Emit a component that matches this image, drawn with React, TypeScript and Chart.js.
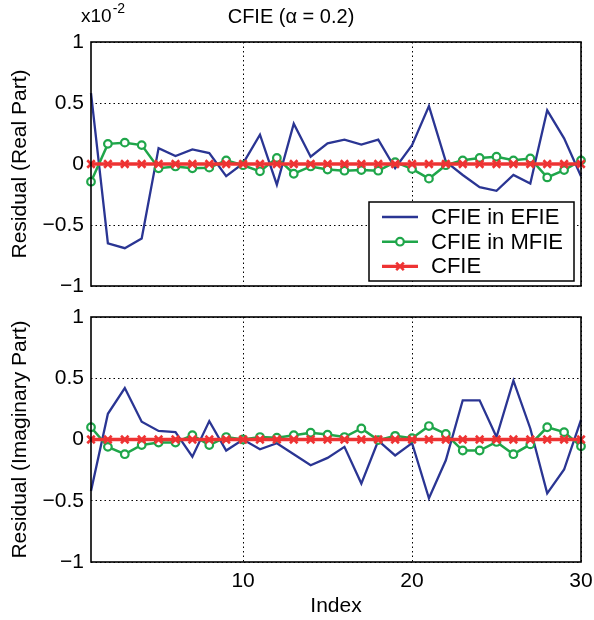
import React, { useEffect, useRef } from 'react';
import { Chart, registerables } from 'chart.js';

Chart.register(...registerables);

const indices = [1, 2, 3, 4, 5, 6, 7, 8, 9, 10, 11, 12, 13, 14, 15, 16, 17, 18, 19, 20, 21, 22, 23, 24, 25, 26, 27, 28, 29, 30];

const realEFIE = [0.58, -0.65, -0.69, -0.61, 0.13, 0.065, 0.12, 0.09, -0.10, 0.005, 0.24, -0.17, 0.33, 0.06, 0.17, 0.20, 0.16, 0.20, -0.035, 0.155, 0.475, 0.02, -0.09, -0.19, -0.22, -0.09, -0.16, 0.44, 0.21, -0.10];
const realMFIE = [-0.145, 0.165, 0.175, 0.155, -0.035, -0.02, -0.035, -0.03, 0.03, -0.01, -0.06, 0.05, -0.08, -0.02, -0.045, -0.055, -0.05, -0.055, 0.015, -0.04, -0.12, -0.01, 0.03, 0.05, 0.06, 0.03, 0.045, -0.11, -0.05, 0.03];
const realCFIE = [0, 0, 0, 0, 0, 0, 0, 0, 0, 0, 0, 0, 0, 0, 0, 0, 0, 0, 0, 0, 0, 0, 0, 0, 0, 0, 0, 0, 0, 0];

const imagEFIE = [-0.42, 0.21, 0.42, 0.145, 0.07, 0.06, -0.14, 0.15, -0.09, 0, -0.08, -0.03, -0.12, -0.21, -0.15, -0.06, -0.36, -0.01, -0.13, -0.03, -0.48, -0.17, 0.32, 0.32, 0.02, 0.48, 0.09, -0.44, -0.245, 0.16];
const imagMFIE = [0.10, -0.06, -0.12, -0.045, -0.025, -0.025, 0.035, -0.045, 0.02, 0, 0.02, 0.015, 0.035, 0.055, 0.04, 0.02, 0.09, -0.005, 0.03, 0.01, 0.11, 0.045, -0.09, -0.09, -0.02, -0.12, -0.04, 0.10, 0.06, -0.055];
const imagCFIE = [0, 0, 0, 0, 0, 0, 0, 0, 0, 0, 0, 0, 0, 0, 0, 0, 0, 0, 0, 0, 0, 0, 0, 0, 0, 0, 0, 0, 0, 0];

const xTicks = [10, 20, 30];
const yTicks = [-1, -0.5, 0, 0.5, 1];
const yTickLabels = ['−1', '−0.5', '0', '0.5', '1'];
const seriesNames = ['CFIE in EFIE', 'CFIE in MFIE', 'CFIE'];
const titleText = 'CFIE (α = 0.2)';
const exponentBase = 'x10';
const exponentPower = '-2';
const xTitle = 'Index';
const yTitleTop = 'Residual (Real Part)';
const yTitleBottom = 'Residual (Imaginary Part)';

const FAMILY = "'Liberation Sans', Arial, Helvetica, sans-serif";
const BLUE = '#2a3593';
const GREEN = '#1fa64a';
const RED = '#ee3333';

const boxPlugin = {
  id: 'boxPlugin',
  afterDatasetsDraw(chart: any) {
    const { ctx, chartArea: a } = chart;
    ctx.save();
    ctx.strokeStyle = '#000';
    ctx.lineWidth = 1.6;
    ctx.strokeRect(a.left, a.top, a.right - a.left, a.bottom - a.top);
    ctx.restore();
  },
};

function drawMarker(ctx: CanvasRenderingContext2D, kind: number, x: number, y: number) {
  if (kind === 1) {
    ctx.beginPath();
    ctx.arc(x, y, 3.8, 0, Math.PI * 2);
    ctx.fillStyle = '#fff';
    ctx.fill();
    ctx.lineWidth = 2.2;
    ctx.strokeStyle = GREEN;
    ctx.stroke();
  } else if (kind === 2) {
    const r = 3.8;
    ctx.beginPath();
    ctx.moveTo(x - r, y - r);
    ctx.lineTo(x + r, y + r);
    ctx.moveTo(x + r, y - r);
    ctx.lineTo(x - r, y + r);
    ctx.lineWidth = 2.6;
    ctx.strokeStyle = RED;
    ctx.stroke();
  }
}

const legendPlugin = {
  id: 'legendPlugin',
  afterDraw(chart: any) {
    const { ctx, chartArea: a } = chart;
    const w = 205;
    const h = 79;
    const right = a.right - 7;
    const bottom = a.bottom - 5;
    const left = right - w;
    const top = bottom - h;
    ctx.save();
    ctx.fillStyle = '#fff';
    ctx.fillRect(left, top, w, h);
    ctx.strokeStyle = '#000';
    ctx.lineWidth = 1.5;
    ctx.strokeRect(left, top, w, h);
    ctx.font = `22px ${FAMILY}`;
    ctx.textBaseline = 'middle';
    ctx.textAlign = 'left';
    chart.data.datasets.forEach((ds: any, i: number) => {
      const y = top + 15 + i * 24.7;
      ctx.beginPath();
      ctx.moveTo(left + 13, y);
      ctx.lineTo(left + 49, y);
      ctx.strokeStyle = ds.borderColor;
      ctx.lineWidth = ds.borderWidth;
      ctx.stroke();
      drawMarker(ctx, i, left + 31, y);
      ctx.fillStyle = '#000';
      ctx.fillText(ds.label, left + 62, y + 1);
    });
    ctx.restore();
  },
};

const headerPlugin = {
  id: 'headerPlugin',
  afterDraw(chart: any) {
    const { ctx } = chart;
    ctx.save();
    ctx.fillStyle = '#000';
    ctx.textBaseline = 'alphabetic';
    ctx.textAlign = 'center';
    ctx.font = `20px ${FAMILY}`;
    ctx.fillText(titleText, chart.width / 2 - 6, 23);
    ctx.textAlign = 'left';
    ctx.font = `19px ${FAMILY}`;
    ctx.fillText(exponentBase, 81, 22);
    const wb = ctx.measureText(exponentBase).width;
    ctx.font = `14px ${FAMILY}`;
    ctx.fillText(exponentPower, 81 + wb + 1, 13);
    ctx.restore();
  },
};

function makeConfig(isTop: boolean, efie: number[], mfie: number[], cfie: number[], yTitle: string): any {
  const font = { family: FAMILY, size: 21 };
  const toPts = (arr: number[]) => indices.map((x, i) => ({ x, y: arr[i] }));
  return {
    type: 'line',
    data: {
      datasets: [
        {
          label: seriesNames[0],
          data: toPts(efie),
          borderColor: BLUE,
          borderWidth: 2.3,
          pointRadius: 0,
          order: 3,
          clip: false,
          tension: 0,
        },
        {
          label: seriesNames[1],
          data: toPts(mfie),
          borderColor: GREEN,
          borderWidth: 2.5,
          pointRadius: 3.8,
          pointStyle: 'circle',
          pointBorderWidth: 2.2,
          pointBackgroundColor: '#fff',
          pointBorderColor: GREEN,
          order: 2,
          clip: false,
          tension: 0,
        },
        {
          label: seriesNames[2],
          data: toPts(cfie),
          borderColor: RED,
          borderWidth: 3.3,
          pointStyle: 'crossRot',
          pointRadius: 5.3,
          pointBorderWidth: 2.6,
          pointBorderColor: RED,
          order: 1,
          clip: false,
          tension: 0,
        },
      ],
    },
    options: {
      responsive: false,
      maintainAspectRatio: false,
      animation: false,
      events: [],
      layout: { autoPadding: false, padding: { left: 0, right: 13, top: isTop ? 42 : 17, bottom: isTop ? 14 : 0 } },
      plugins: {
        legend: { display: false },
        title: { display: false },
        tooltip: { enabled: false },
      },
      scales: {
        x: {
          type: 'linear',
          min: 1,
          max: 30,
          afterBuildTicks: (axis: any) => {
            axis.ticks = xTicks.map((v) => ({ value: v }));
          },
          afterFit: (axis: any) => {
            axis.height = isTop ? 0 : 58;
            axis.paddingLeft = 0;
            axis.paddingRight = 0;
          },
          ticks: {
            display: !isTop,
            font,
            color: '#000',
            padding: 7,
            maxRotation: 0,
            autoSkip: false,
            callback: (v: any) => String(v),
          },
          grid: { color: '#000', lineWidth: 1, drawTicks: false },
          border: { display: false, dash: [1.5, 3] },
          title: {
            display: !isTop,
            text: xTitle,
            font,
            color: '#000',
            padding: { top: 0, bottom: 1 },
          },
        },
        y: {
          type: 'linear',
          min: -1,
          max: 1,
          afterBuildTicks: (axis: any) => {
            axis.ticks = yTicks.map((v) => ({ value: v }));
          },
          afterFit: (axis: any) => {
            axis.width = 91;
            axis.paddingTop = 0;
            axis.paddingBottom = 0;
          },
          ticks: {
            font,
            color: '#000',
            padding: 7,
            callback: (v: any) => {
              const idx = yTicks.indexOf(Number(v));
              return idx >= 0 ? yTickLabels[idx] : '';
            },
          },
          grid: { color: '#000', lineWidth: 1, drawTicks: false },
          border: { display: false, dash: [1.5, 3] },
          title: {
            display: true,
            text: yTitle,
            font,
            color: '#000',
            padding: { top: 8, bottom: 0 },
          },
        },
      },
    },
    plugins: isTop ? [boxPlugin, legendPlugin, headerPlugin] : [boxPlugin],
  };
}

export default function App() {
  const topRef = useRef<HTMLCanvasElement>(null);
  const bottomRef = useRef<HTMLCanvasElement>(null);

  useEffect(() => {
    const c1 = new Chart(topRef.current as HTMLCanvasElement, makeConfig(true, realEFIE, realMFIE, realCFIE, yTitleTop));
    const c2 = new Chart(bottomRef.current as HTMLCanvasElement, makeConfig(false, imagEFIE, imagMFIE, imagCFIE, yTitleBottom));
    return () => {
      c1.destroy();
      c2.destroy();
    };
  }, []);

  return (
    <div style={{ position: 'absolute', left: 0, top: 0, width: 594, height: 620, background: '#fff' }}>
      <canvas ref={topRef} width={594} height={300} style={{ position: 'absolute', left: 0, top: 0, width: 594, height: 300 }} />
      <canvas ref={bottomRef} width={594} height={320} style={{ position: 'absolute', left: 0, top: 300, width: 594, height: 320 }} />
    </div>
  );
}
